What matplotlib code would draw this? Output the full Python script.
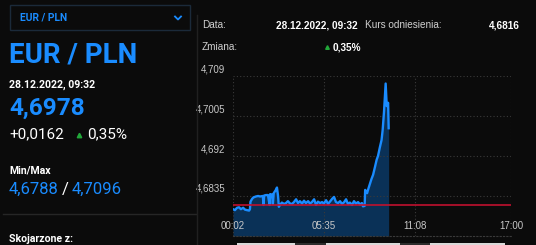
import matplotlib
matplotlib.use("Agg")
import matplotlib.pyplot as plt
from matplotlib.patches import Rectangle
from matplotlib.lines import Line2D
from matplotlib.transforms import ScaledTranslation

# intraday EUR/PLN quotes, minutes after midnight
minutes = [2, 9, 17, 24, 31, 39, 46, 53, 61, 64, 66, 72, 77, 86, 94, 101, 111, 114,
           116, 123, 130, 136, 138, 145, 148, 151, 159, 163, 167, 170, 174, 181, 189,
           196, 203, 211, 218, 225, 233, 240, 247, 255, 262, 269, 277, 284, 291, 299,
           306, 313, 321, 328, 335, 343, 350, 357, 365, 372, 379, 387, 394, 401, 409,
           416, 423, 430, 438, 445, 452, 460, 467, 474, 478, 484, 486, 493, 498, 509,
           515, 522, 528, 533, 540, 546, 550, 555, 561, 565, 570, 572]
prices = [4.6807, 4.6805, 4.6810, 4.6811, 4.6807, 4.6810, 4.6806, 4.6805, 4.6804,
          4.6807, 4.6823, 4.6829, 4.6832, 4.6834, 4.6835, 4.6834, 4.6835, 4.6816,
          4.6836, 4.6837, 4.6837, 4.6816, 4.6839, 4.6838, 4.6818, 4.6841, 4.6848,
          4.6853, 4.6835, 4.6812, 4.6816, 4.6821, 4.6818, 4.6820, 4.6824, 4.6819,
          4.6818, 4.6822, 4.6828, 4.6820, 4.6824, 4.6819, 4.6825, 4.6820, 4.6824,
          4.6819, 4.6822, 4.6828, 4.6816, 4.6823, 4.6820, 4.6822, 4.6819, 4.6826,
          4.6818, 4.6823, 4.6829, 4.6833, 4.6822, 4.6820, 4.6824, 4.6818, 4.6822,
          4.6828, 4.6818, 4.6821, 4.6816, 4.6824, 4.6819, 4.6822, 4.6817, 4.6820,
          4.6813, 4.6814, 4.6848, 4.6841, 4.6851, 4.6871, 4.6880, 4.6897, 4.6912,
          4.6920, 4.6939, 4.6954, 4.6975, 4.7014, 4.7074, 4.7026, 4.7033, 4.6979]
reference = 4.6816
y_ticks = [4.6835, 4.692, 4.7005, 4.709]
y_labels = ["4,6835", "4,692", "4,7005", "4,709"]
x_ticks = [2, 335, 668, 1020]
x_labels = ["00:02", "05:35", "11:08", "17:00"]

BG = "#0b0b0b"
BLUE = "#1a8cff"
FILL = "#0a3157"
RED = "#c0112e"
GREEN = "#22a83a"
W, H = 536, 245

fig = plt.figure(figsize=(W / 100, H / 100), dpi=100)
fig.patch.set_facecolor(BG)


def fx(x):
    return x / W


def fy(y):
    return 1 - y / H


def txt(x, y, s, **kw):
    kw.setdefault("family", "Roboto")
    kw.setdefault("color", "white")
    kw.setdefault("va", "baseline")
    return fig.text(fx(x), fy(y), s, **kw)


#----- left panel -----
fig.patches.append(Rectangle((fx(9.5), fy(30)), fx(180), 25 / H, transform=fig.transFigure,
                             fill=False, edgecolor="#1b2a3a", lw=1))
txt(20, 20.5, "EUR / PLN", color=BLUE, fontsize=7.4, weight="bold")
fig.add_artist(Line2D([fx(175), fx(178), fx(181)], [fy(16.5), fy(19.5), fy(16.5)],
                      transform=fig.transFigure, color=BLUE, lw=1.3))
txt(9, 63, "EUR / PLN", color=BLUE, fontsize=20, weight="bold")
txt(9, 88, "28.12.2022, 09:32", fontsize=7.6, weight="bold")
txt(9, 115, "4,6978", color=BLUE, fontsize=17.6, weight="bold")
txt(9, 138, "+0,0162", fontsize=11)
fig.add_artist(Line2D([fx(79)], [fy(134.5)], transform=fig.transFigure, marker="^",
                      markersize=3.2, color=GREEN, lw=0))
txt(87, 138, "0,35%", fontsize=11)
txt(9, 174, "Min/Max", fontsize=7.6, weight="bold")
txt(9, 194, "4,6788", color=BLUE, fontsize=12)
txt(62, 194, "/", fontsize=12)
txt(72, 194, "4,7096", color=BLUE, fontsize=12)
txt(9, 241.5, "Skojarzone z:", fontsize=7.6, weight="bold")
fig.add_artist(Line2D([fx(3), fx(196)], [fy(214), fy(214)], transform=fig.transFigure,
                      color="#262626", lw=1))
fig.add_artist(Line2D([fx(197), fx(197)], [fy(15), fy(245)], transform=fig.transFigure,
                      color="#202020", lw=1))

#----- right header -----
txt(202, 28.5, "Data:", family="Liberation Sans", color="#d0d0d0", fontsize=7.2)
txt(358, 28.5, "28.12.2022, 09:32", family="Liberation Sans", fontsize=7.2,
    weight="bold", ha="right")
txt(365, 28.5, "Kurs odniesienia:", family="Liberation Sans", color="#d0d0d0", fontsize=7.2)
txt(520, 28.5, "4,6816", family="Liberation Sans", fontsize=7.2, weight="bold", ha="right")
txt(202, 50.5, "Zmiana:", family="Liberation Sans", color="#d0d0d0", fontsize=7.2)
fig.add_artist(Line2D([fx(326.5)], [fy(47)], transform=fig.transFigure, marker="^",
                      markersize=2.6, color=GREEN, lw=0))
txt(333, 50.5, "0,35%", family="Liberation Sans", fontsize=7.2, weight="bold")

#----- chart -----
ax = fig.add_axes([fx(233), fy(236), fx(511) - fx(233), (236 - 76) / H])
ax.set_facecolor(BG)
ax.fill_between(minutes, prices, 4.675, color=FILL, lw=0)
ax.plot(minutes, prices, color=BLUE, lw=1.7)
ax.axhline(reference, color=RED, lw=1.2)
ax.set_xlim(2, 1020)
ax.set_ylim(4.675, 4.709)
ax.set_xticks(x_ticks, x_labels)
ax.set_yticks(y_ticks, y_labels)
ax.grid(True, color="#3a3a3a", lw=0.8, linestyle=(0, (1, 2)))
for s in ax.spines.values():
    s.set_visible(False)
ax.spines["bottom"].set_visible(True)
ax.spines["bottom"].set_color("#3a3a3a")
ax.spines["bottom"].set_linestyle((0, (1, 2)))
ax.tick_params(length=0, colors="#c8c8c8", labelsize=7)
ax.tick_params(axis="x", pad=-10.5)
ax.tick_params(axis="y", pad=5.5)
for lab in ax.get_xticklabels() + ax.get_yticklabels():
    lab.set_family("Liberation Sans")
for lab in ax.get_yticklabels():
    lab.set_va("bottom")
    lab.set_transform(lab.get_transform() + ScaledTranslation(0, 2 / 100, fig.dpi_scale_trans))

# tab stubs at the bottom edge
for x0, x1, c in [(237, 295, "#d8d8d8"), (295, 326, "#2c2c2c"), (326, 400, "#d8d8d8"),
                  (400, 430, "#2c2c2c"), (430, 505, "#d8d8d8")]:
    fig.patches.append(Rectangle((fx(x0), 0), fx(x1 - x0), 2 / H, transform=fig.transFigure,
                                 color=c, lw=0))

fig.savefig("out.png", dpi=100, facecolor=BG)
